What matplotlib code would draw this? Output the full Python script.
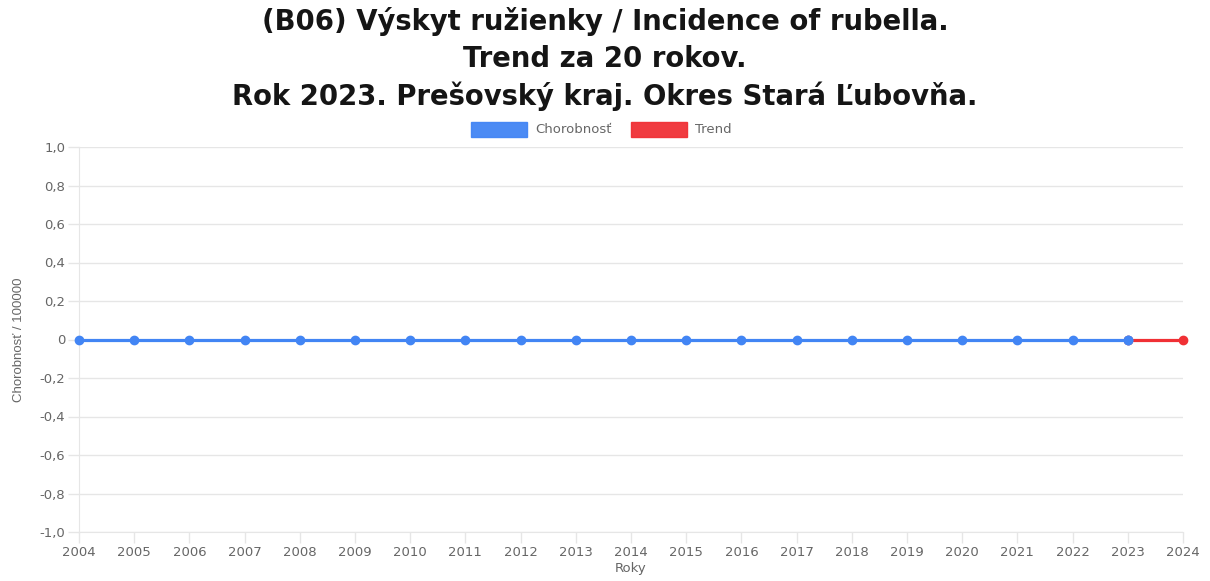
import matplotlib
matplotlib.use("Agg")
import matplotlib.pyplot as plt
from matplotlib.patches import Rectangle

years = list(range(2004, 2025))
chorobnost_years = list(range(2004, 2024))
chorobnost = [0] * 20
trend_years = [2023, 2024]
trend = [0, 0]
yticks = [1.0, 0.8, 0.6, 0.4, 0.2, 0.0, -0.2, -0.4, -0.6, -0.8, -1.0]
title_lines = ["(B06) Výskyt ružienky / Incidence of rubella.",
               "Trend za 20 rokov.",
               "Rok 2023. Prešovský kraj. Okres Stará Ľubovňa."]

blue = "#4285F4"
red = "#F03035"
grey = "#666666"
gridc = "#E6E6E6"

plt.rcParams['font.family'] = ['DejaVu Sans']

W, H = 1210, 581
fig = plt.figure(figsize=(W / 100, H / 100), dpi=100)
ax = fig.add_axes([79 / W, 1 - 532 / H, (1183 - 79) / W, (532 - 147) / H])

ax.plot(chorobnost_years, chorobnost, color=blue, lw=2.3, marker='o', ms=6,
        markeredgecolor=blue, zorder=3, clip_on=False)
ax.plot(trend_years, trend, color=red, lw=2.3, marker='o', ms=6,
        markeredgecolor=red, zorder=2, clip_on=False)
ax.plot([2023], [0], color=blue, marker='o', ms=6, zorder=4, clip_on=False)

ax.set_xlim(2004, 2024)
ax.set_ylim(-1.0, 1.0)
ax.set_yticks(yticks)
ax.set_yticklabels([("%.1f" % v).replace('.', ',') if v != 0 else "0" for v in yticks])
ax.set_xticks(years)
ax.set_xticklabels([str(y) for y in years])
ax.grid(axis='y', color=gridc, lw=1)
ax.set_axisbelow(True)
for s in ['top', 'right']:
    ax.spines[s].set_visible(False)
for s in ['left', 'bottom']:
    ax.spines[s].set_color(gridc)
ax.tick_params(axis='both', colors=gridc, labelcolor=grey, labelsize=9.5, length=8, width=1)
ax.tick_params(axis='x', pad=2)
ax.tick_params(axis='y', pad=2)

ax.set_ylabel("Chorobnosť / 100000", color=grey, fontsize=9.5, labelpad=10,
              family='Liberation Sans')
ax.set_xlabel("Roky", color=grey, fontsize=9.5, labelpad=2)

for i, line in enumerate(title_lines):
    fig.text(0.5, 1 - (22 + 37 * i) / H, line, ha='center', va='center',
             fontsize=19.8, fontweight='bold', color='#151515')

def legend_item(x, label, color):
    fig.patches.append(Rectangle((x / W, 1 - 137 / H), 56 / W, 15 / H,
                                 transform=fig.transFigure, facecolor=color,
                                 edgecolor=color, alpha=0.95))
    fig.text((x + 64) / W, 1 - 129 / H, label, ha='left', va='center',
             fontsize=9.5, color=grey)

legend_item(471, "Chorobnosť", blue)
legend_item(631, "Trend", red)

fig.savefig("out.png", dpi=100)
